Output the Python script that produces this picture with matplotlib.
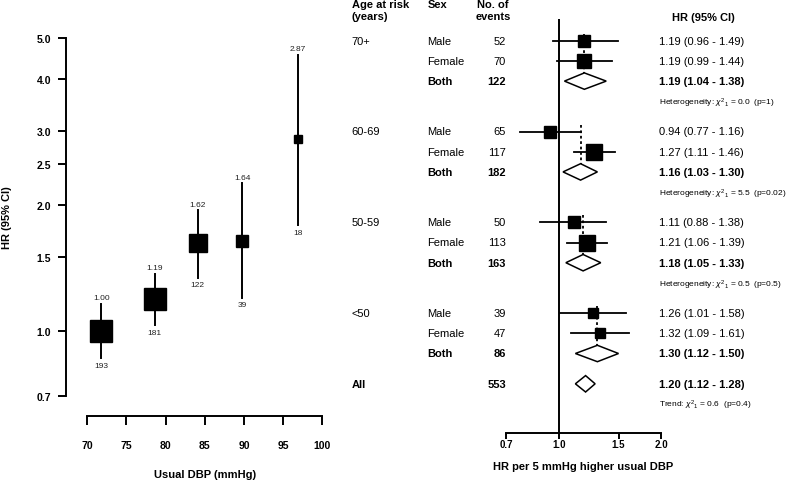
import numpy as np
import matplotlib
matplotlib.use("Agg")
import matplotlib.pyplot as plt
from matplotlib.patches import Polygon
from matplotlib import transforms

plt.rcParams['font.family'] = ['Liberation Sans', 'DejaVu Sans']
plt.rcParams['mathtext.fontset'] = 'custom'
plt.rcParams['mathtext.rm'] = 'Liberation Sans'
plt.rcParams['mathtext.it'] = 'Liberation Sans:italic'

# ---- left panel data: HR by usual DBP fifth ----
dbp_mean = [71.8, 78.6, 84.1, 89.8, 96.9]
dbp_hr = [1.00, 1.19, 1.62, 1.64, 2.87]
dbp_lo = [0.86, 1.03, 1.34, 1.20, 1.79]
dbp_hi = [1.16, 1.37, 1.94, 2.25, 4.56]
dbp_events = [193, 181, 122, 39, 18]
y_ticks = [0.7, 1.0, 1.5, 2.0, 2.5, 3.0, 4.0, 5.0]
x_ticks = [70, 75, 80, 85, 90, 95, 100]

# ---- right panel data: HR per 5 mmHg by age and sex ----
age_groups = ["70+", "60-69", "50-59", "<50"]
sexes = ["Male", "Female", "Both"]
events = [[52, 70, 122], [65, 117, 182], [50, 113, 163], [39, 47, 86]]
hr = [[1.19, 1.19, 1.19], [0.94, 1.27, 1.16], [1.11, 1.21, 1.18], [1.26, 1.32, 1.30]]
lo = [[0.96, 0.99, 1.04], [0.77, 1.11, 1.03], [0.88, 1.06, 1.05], [1.01, 1.09, 1.12]]
hi = [[1.49, 1.44, 1.38], [1.16, 1.46, 1.30], [1.38, 1.39, 1.33], [1.58, 1.61, 1.50]]
het_chi2 = ["0.0", "5.5", "0.5"]
het_p = ["1", "0.02", "0.5"]
all_events = 553
all_hr, all_lo, all_hi = 1.20, 1.12, 1.28
trend_chi2, trend_p = "0.6", "0.4"
f_ticks = [0.7, 1.0, 1.5, 2.0]

W, H = 800, 481
fig = plt.figure(figsize=(W / 100, H / 100), dpi=100)

def fx(px):
    return px / W

def fy(px):
    return 1 - px / H

# ================= left panel =================
ax = fig.add_axes([fx(66), fy(396.7), fx(330 - 66), (396.7 - 39.3) / H])
ax.set_yscale('log')
ax.set_ylim(0.7, 5.0)
ax.set_xlim(67.28, 100.98)
for s in ['top', 'right']:
    ax.spines[s].set_visible(False)
ax.spines['bottom'].set_position(('outward', 14.4))
ax.spines['bottom'].set_bounds(70, 100)
for s in ['left', 'bottom']:
    ax.spines[s].set_linewidth(1.4)
ax.set_yticks(y_ticks)
ax.set_yticklabels(["%.1f" % v for v in y_ticks])
ax.yaxis.set_minor_locator(matplotlib.ticker.NullLocator())
ax.set_xticks(x_ticks)
ax.tick_params(axis='y', length=5.8, width=1.4, pad=5, labelsize=7.5)
ax.tick_params(axis='x', length=6.2, width=1.4, pad=11, labelsize=7.5)
for lab in ax.get_xticklabels() + ax.get_yticklabels():
    lab.set_fontweight('bold')

for x, h, l, u, n in zip(dbp_mean, dbp_hr, dbp_lo, dbp_hi, dbp_events):
    side = 22 * (n / max(dbp_events)) ** 0.4
    ax.plot([x, x], [l, u], color='black', lw=1.4, zorder=2)
    ax.plot([x], [h], marker='s', color='black', markersize=side * 0.72, zorder=3)
    ax.annotate("%.2f" % h, (x, u), xytext=(0, 2), textcoords='offset points',
                ha='center', va='bottom', fontsize=6, color='#222222')
    ax.annotate(str(n), (x, l), xytext=(0, -2.5), textcoords='offset points',
                ha='center', va='top', fontsize=6, color='#222222')

fig.text(fx(7), fy(218), "HR (95% CI)", rotation=90, ha='center', va='center',
         fontsize=8, fontweight='bold')
fig.text(fx(205), fy(475), "Usual DBP (mmHg)", ha='center', va='center',
         fontsize=8, fontweight='bold')

# ================= forest panel =================
axf = fig.add_axes([fx(506), fy(434), fx(661 - 506), (434 - 20) / H])
axf.set_xscale('log')
axf.set_xlim(0.7, 2.0)
axf.set_ylim(434, 20)
for s in ['top', 'right', 'left']:
    axf.spines[s].set_visible(False)
axf.spines['bottom'].set_linewidth(1.4)
axf.set_yticks([])
axf.set_xticks(f_ticks)
axf.set_xticklabels(["%.1f" % v for v in f_ticks])
axf.xaxis.set_minor_locator(matplotlib.ticker.NullLocator())
axf.tick_params(axis='x', length=4, width=1.4, pad=0.5, labelsize=7)
for lab in axf.get_xticklabels():
    lab.set_fontweight('bold')
axf.axvline(1.0, color='black', lw=1.4, zorder=1)

tr = transforms.blended_transform_factory(fig.transFigure, axf.transData)
col_age, col_sex, col_n, col_hr = fx(351.7), fx(427.3), fx(506), fx(659.3)
fs = 8
fs_small = 6

# headers
fig.text(col_age, fy(5), "Age at risk", ha='left', va='center', fontsize=fs, fontweight='bold')
fig.text(col_age, fy(16.7), "(years)", ha='left', va='center', fontsize=fs, fontweight='bold')
fig.text(col_sex, fy(5), "Sex", ha='left', va='center', fontsize=fs, fontweight='bold')
fig.text(fx(493), fy(5), "No. of", ha='center', va='center', fontsize=fs, fontweight='bold')
fig.text(fx(493), fy(16.7), "events", ha='center', va='center', fontsize=fs, fontweight='bold')
fig.text(fx(703), fy(18), "HR (95% CI)", ha='center', va='center', fontsize=fs, fontweight='bold')

row_h = 20.2
first_row = 41.7
group_step = 90.8
half_d = 8.2

def diamond(yc, h, l, u):
    poly = Polygon([[l, yc], [h, yc - half_d], [u, yc], [h, yc + half_d]], closed=True,
                   facecolor='white', edgecolor='black', lw=1.1, zorder=3)
    axf.add_patch(poly)

for g, age in enumerate(age_groups):
    base = first_row + g * group_step
    ys = [base + k * row_h for k in range(3)]
    axf.text(col_age, ys[0], age, transform=tr, ha='left', va='center', fontsize=fs)
    # dotted line at the combined estimate
    axf.plot([hr[g][2], hr[g][2]], [ys[0] - 7, ys[2] - half_d], color='black',
             lw=1.3, ls=(0, (1.5, 1.5)), zorder=1.5)
    for k in range(3):
        y = ys[k]
        wt = 'bold' if k == 2 else 'normal'
        axf.text(col_sex, y, sexes[k], transform=tr, ha='left', va='center',
                 fontsize=fs, fontweight=wt)
        axf.text(col_n, y, str(events[g][k]), transform=tr, ha='right', va='center',
                 fontsize=fs, fontweight=wt)
        axf.text(col_hr, y, "%.2f (%.2f - %.2f)" % (hr[g][k], lo[g][k], hi[g][k]),
                 transform=tr, ha='left', va='center', fontsize=fs, fontweight=wt)
        if k < 2:
            side = 1.57 * np.sqrt(events[g][k])
            axf.plot([lo[g][k], hi[g][k]], [y, y], color='black', lw=1.3, zorder=2)
            axf.plot([hr[g][k]], [y], marker='s', color='black',
                     markersize=side * 0.72, zorder=3)
        else:
            diamond(y, hr[g][k], lo[g][k], hi[g][k])
    if g < len(het_chi2):
        axf.text(col_hr, base + 3.05 * row_h,
                 r"Heterogeneity: $\chi^2{}_1$ = %s  (p=%s)" % (het_chi2[g], het_p[g]),
                 transform=tr, ha='left', va='center', fontsize=fs_small)

y_all = first_row + (len(age_groups) - 1) * group_step + 3.5 * row_h
axf.text(col_age, y_all, "All", transform=tr, ha='left', va='center', fontsize=fs, fontweight='bold')
axf.text(col_n, y_all, str(all_events), transform=tr, ha='right', va='center',
         fontsize=fs, fontweight='bold')
axf.text(col_hr, y_all, "%.2f (%.2f - %.2f)" % (all_hr, all_lo, all_hi), transform=tr,
         ha='left', va='center', fontsize=fs, fontweight='bold')
diamond(y_all, all_hr, all_lo, all_hi)
axf.text(col_hr, y_all + 21, r"Trend: $\chi^2{}_1$ = %s  (p=%s)" % (trend_chi2, trend_p),
         transform=tr, ha='left', va='center', fontsize=fs_small)

fig.text(fx(583), fy(466.7), "HR per 5 mmHg higher usual DBP", ha='center', va='center',
         fontsize=8, fontweight='bold')

fig.savefig("out.png", dpi=100)
